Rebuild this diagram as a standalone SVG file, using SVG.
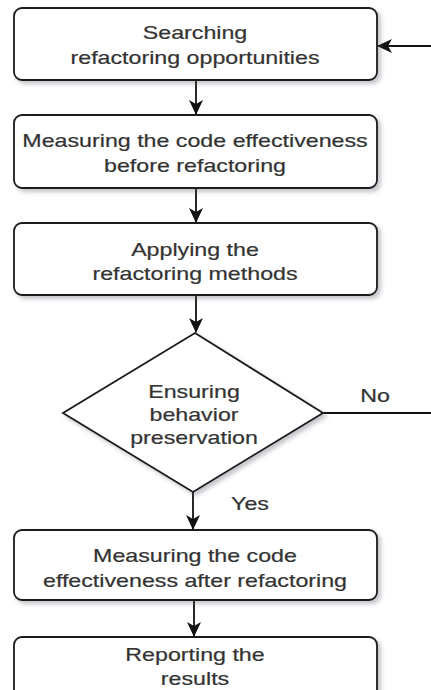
<svg xmlns="http://www.w3.org/2000/svg" width="431" height="690" viewBox="0 0 431 690">
<style>
.box{fill:#fff;stroke:#1a1a1a;stroke-width:1.8;filter:url(#sh)}
.lbl{font-family:"Liberation Sans",Arial,sans-serif;font-size:18px;fill:#333;stroke:#333;stroke-width:0.2;text-anchor:middle}
.edge{fill:none;stroke:#111;stroke-width:1.8}
</style>
<defs>
<filter id="sh" x="-10%" y="-10%" width="130%" height="140%">
<feDropShadow dx="3" dy="3" stdDeviation="2" flood-color="#556" flood-opacity="0.35"/>
</filter>
<marker id="ah" viewBox="0 0 15 14" refX="14" refY="7" markerWidth="15" markerHeight="14" markerUnits="userSpaceOnUse" orient="auto">
<path d="M0,0 L15,7 L0,14 L4,7 Z" fill="#111"/>
</marker>
</defs>
<g id="connectors">
<path class="edge" d="M196,80 V114" marker-end="url(#ah)"/>
<path class="edge" d="M196,188 V222" marker-end="url(#ah)"/>
<path class="edge" d="M196,295 V332" marker-end="url(#ah)"/>
<path class="edge" d="M193,492 V529" marker-end="url(#ah)"/>
<path class="edge" d="M194,600 V636" marker-end="url(#ah)"/>
<path class="edge" d="M323,413 H445 V46 H378" marker-end="url(#ah)"/>
<g transform="translate(375,402) scale(1.29,1)"><text class="lbl" x="0" y="0">No</text></g>
<g transform="translate(250,510) scale(1.29,1)"><text class="lbl" x="0" y="0">Yes</text></g>
</g>
<g id="n1">
<rect class="box" x="14" y="8" width="363" height="72" rx="8"/>
<g transform="translate(195,39) scale(1.29,1)"><text class="lbl" x="0" y="0">Searching</text><text class="lbl" x="0" y="25">refactoring opportunities</text></g>
</g>
<g id="n2">
<rect class="box" x="14" y="115" width="363" height="73" rx="8"/>
<g transform="translate(195,147) scale(1.29,1)"><text class="lbl" x="0" y="0">Measuring the code effectiveness</text><text class="lbl" x="0" y="25">before refactoring</text></g>
</g>
<g id="n3">
<rect class="box" x="14" y="223" width="363" height="72" rx="8"/>
<g transform="translate(195,256) scale(1.29,1)"><text class="lbl" x="0" y="0">Applying the</text><text class="lbl" x="0" y="24">refactoring methods</text></g>
</g>
<g id="n4">
<path class="box" d="M195,333 L323,413 L193,492 L63,413 Z"/>
<g transform="translate(194,398) scale(1.29,1)"><text class="lbl" x="0" y="0">Ensuring</text><text class="lbl" x="0" y="23">behavior</text><text class="lbl" x="0" y="46">preservation</text></g>
</g>
<g id="n5">
<rect class="box" x="14" y="530" width="363" height="70" rx="8"/>
<g transform="translate(195,562) scale(1.29,1)"><text class="lbl" x="0" y="0">Measuring the code</text><text class="lbl" x="0" y="25">effectiveness after refactoring</text></g>
</g>
<g id="n6">
<rect class="box" x="14" y="637" width="363" height="70" rx="8"/>
<g transform="translate(195,661) scale(1.29,1)"><text class="lbl" x="0" y="0">Reporting the</text><text class="lbl" x="0" y="24">results</text></g>
</g>
</svg>
